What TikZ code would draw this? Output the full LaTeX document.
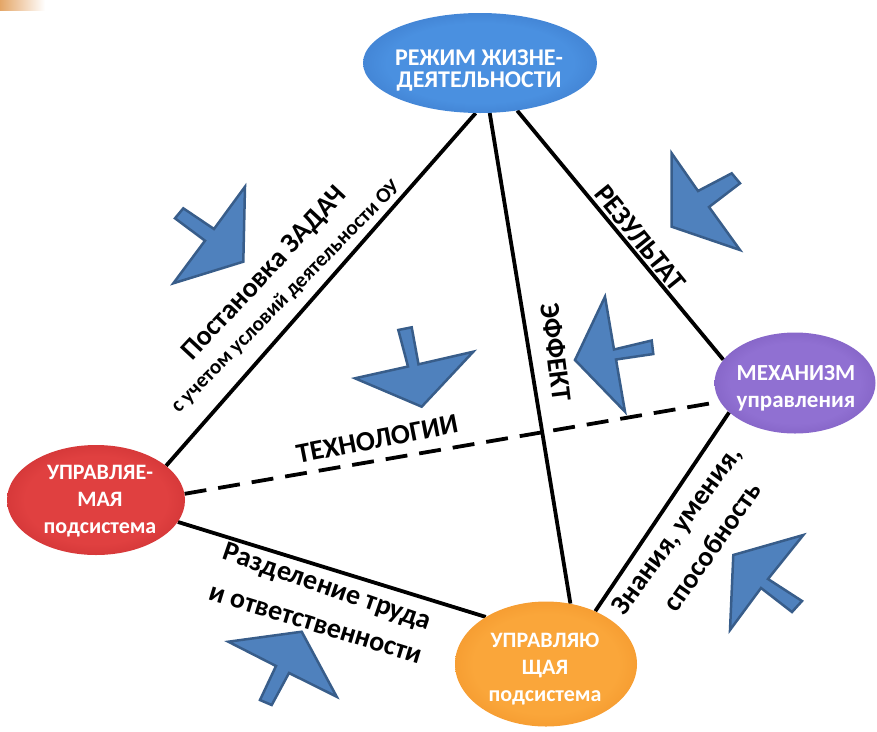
\documentclass[tikz,border=0pt]{standalone}
\usepackage{fontspec}
\setmainfont{Carlito}
\usetikzlibrary{shapes.geometric}
\pgfdeclarelayer{bg}
\pgfsetlayers{bg,main}
\definecolor{arrfill}{HTML}{4F81BD}
\definecolor{arrline}{HTML}{385D8A}
\definecolor{blueIn}{HTML}{4A90E0}
\definecolor{blueOut}{HTML}{2454A4}
\definecolor{redIn}{HTML}{E04040}
\definecolor{redOut}{HTML}{A8161C}
\definecolor{purIn}{HTML}{9070D2}
\definecolor{purOut}{HTML}{5E3C9E}
\definecolor{orIn}{HTML}{FAA63A}
\definecolor{orOut}{HTML}{E4760E}
\pgfdeclareradialshading{blueball}{\pgfpointorigin}{color(0bp)=(blueIn); color(20bp)=(blueIn); color(50bp)=(blueOut)}
\pgfdeclareradialshading{redball}{\pgfpointorigin}{color(0bp)=(redIn); color(20bp)=(redIn); color(50bp)=(redOut)}
\pgfdeclareradialshading{purball}{\pgfpointorigin}{color(0bp)=(purIn); color(20bp)=(purIn); color(50bp)=(purOut)}
\pgfdeclareradialshading{orball}{\pgfpointorigin}{color(0bp)=(orIn); color(20bp)=(orIn); color(50bp)=(orOut)}
\begin{document}
\begin{tikzpicture}[x=1pt,y=-1pt,
  blob/.style={ellipse, draw=none, inner sep=0pt},
  ntext/.style={text=white, align=center, inner sep=0pt, anchor=north},
  conn/.style={line width=3.8pt, black},
  lab/.style={font=\bfseries\fontsize{28}{30}\selectfont, inner sep=0pt},
  bigarrow/.style={fill=arrfill, draw=arrline, line width=2.5pt, line join=miter}
]
\useasboundingbox (0,0) rectangle (877,731);
\shade[left color=brown!60!orange!70!white, right color=white] (0,0) rectangle (45,10);

% ellipses
\node[blob, minimum width=234pt, minimum height=100pt, shading=blueball] (rezhim) at (480,63) {};
\node[blob, minimum width=178pt, minimum height=110pt, shading=redball] (upr) at (96,500) {};
\node[blob, minimum width=161pt, minimum height=101pt, shading=purball] (mech) at (795,383) {};
\node[blob, minimum width=182pt, minimum height=125pt, shading=orball] (uprj) at (546,664) {};

% texts in ellipses
\node[ntext, font=\bfseries\fontsize{24}{22}\selectfont] (rezhimT) at (479,50) {РЕЖИМ ЖИЗНЕ-\\ДЕЯТЕЛЬНОСТИ};
\node[ntext, font=\bfseries\fontsize{22}{27}\selectfont] (uprT) at (100,465) {УПРАВЛЯЕ-\\МАЯ\\подсистема};
\node[ntext, font=\bfseries\fontsize{23}{27}\selectfont] (mechT) at (796,365) {МЕХАНИЗМ\\управления};
\node[ntext, font=\bfseries\fontsize{22}{27}\selectfont] (uprjT) at (545,633) {УПРАВЛЯЮ\\ЩАЯ\\подсистема};

% connectors
\begin{pgfonlayer}{bg}
\draw[conn] (rezhim.265) -- (upr.26);
\draw[conn] (rezhim.281) -- (uprj.68);
\draw[conn] (rezhim.308) -- (mech.162);
\draw[conn, dash pattern=on 22pt off 12pt] (upr.4) -- (mech.194);
\draw[conn] (upr.345) -- (uprj.142);
\draw[conn] (mech.204) -- (uprj.47);
\end{pgfonlayer}

% labels
\node[lab, rotate=47] (postT) at (265,274) {Постановка ЗАДАЧ};
\node[inner sep=0pt, font=\bfseries\fontsize{21}{23}\selectfont, rotate=45.5] (uslT) at (286,297) {с учетом условий деятельности ОУ};
\node[lab, rotate=-51] (rezT) at (640,238) {РЕЗУЛЬТАТ};
\node[lab, rotate=-83] (effT) at (556,352) {ЭФФЕКТ};
\node[lab, rotate=11] (techT) at (377,439) {ТЕХНОЛОГИИ};
\node[lab, rotate=-19] (razd1) at (327,588) {Разделение труда};
\node[lab, rotate=-17] (razd2) at (315,625) {и ответственности};
\node[lab, rotate=54] (zn1) at (678,531) {Знания, умения,};
\node[lab, rotate=55] (zn2) at (712,546) {способность};

% block arrows
\draw[bigarrow] (245,186.7) -- (243.3,261.7) -- (173.3,283.3) -- (205,240.7) -- (175,218.3) -- (183.3,208.3) -- (214,229) -- cycle;
\draw[bigarrow] (671.7,153.3) -- (698,191) -- (731.7,173.3) -- (740,183.3) -- (709,207) -- (740,250) -- (671.7,226.7) -- cycle;
\draw[bigarrow] (733.3,555) -- (803.3,535) -- (768,579) -- (802,601) -- (792,612) -- (761,588) -- (730,630) -- cycle;
\draw[bigarrow] (228.3,641.7) -- (301.7,631.7) -- (336.7,696.7) -- (289,673) -- (271.7,705) -- (260,700) -- (276,666) -- cycle;
\draw[bigarrow] (355,378.3) -- (408,366.5) -- (398.3,330) -- (411.7,327.3) -- (418.5,364.3) -- (473.3,351.7) -- (421.7,406.7) -- cycle;
\draw[bigarrow] (605,296.7) -- (575,360) -- (625,411.7) -- (616,359.5) -- (653.3,354) -- (651.7,340.5) -- (614,349.5) -- cycle;
\end{tikzpicture}
\end{document}
